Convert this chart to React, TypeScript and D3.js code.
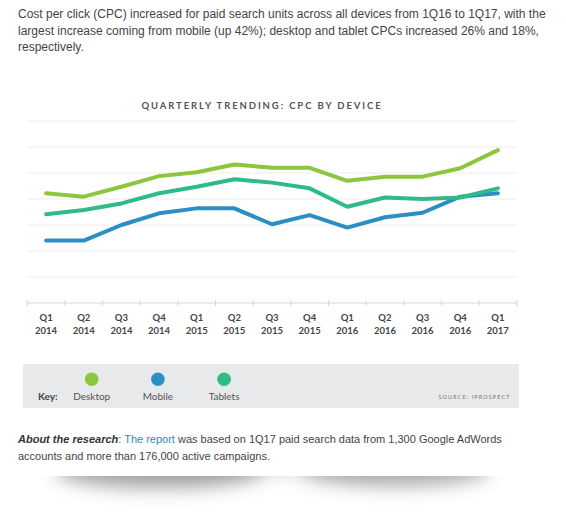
import React from "react"
import * as d3 from "d3"

const quarters = ["Q1", "Q2", "Q3", "Q4", "Q1", "Q2", "Q3", "Q4", "Q1", "Q2", "Q3", "Q4", "Q1"]
const years = ["2014", "2014", "2014", "2014", "2015", "2015", "2015", "2015", "2016", "2016", "2016", "2016", "2017"]

const desktop = [4.22, 4.09, 4.47, 4.88, 5.03, 5.33, 5.2, 5.2, 4.7, 4.86, 4.86, 5.18, 5.88]
const mobile = [2.4, 2.4, 3.0, 3.45, 3.64, 3.64, 3.03, 3.38, 2.9, 3.3, 3.47, 4.09, 4.22]
const tablets = [3.41, 3.58, 3.83, 4.22, 4.47, 4.76, 4.63, 4.41, 3.7, 4.06, 4.0, 4.06, 4.41]

const gridValues = [1, 2, 3, 4, 5, 6, 7]

const series = [
  { name: "Desktop", values: desktop, color: "#8cc63f" },
  { name: "Mobile", values: mobile, color: "#2b8fc3" },
  { name: "Tablets", values: tablets, color: "#2fbb85" },
]

const W = 566
const H = 516

export default function App() {
  const keys = quarters.map((q, i) => `${q} ${years[i]}`)
  const x = d3.scalePoint<string>().domain(keys).range([27.3, 516.7]).padding(0.5)
  const xBand = d3.scaleBand<string>().domain(keys).range([27.3, 516.7])
  const y = d3.scaleLinear().domain([0, 7]).range([303, 121])

  const line = d3
    .line<number>()
    .x((_, i) => x(keys[i]) as number)
    .y((d) => y(d))
    .curve(d3.curveLinear)

  const tickXs = [...keys.map((k) => xBand(k) as number), xBand.range()[1]]

  const bodyFont = "'Liberation Sans', Arial, sans-serif"
  const chartFont = "Lato, 'Open Sans', sans-serif"

  return (
    <svg width={W} height={H} style={{ position: "absolute", left: 0, top: 0 }}>
      <defs>
        <filter id="blur" x="-50%" y="-300%" width="200%" height="700%">
          <feGaussianBlur stdDeviation="9" />
        </filter>
        <clipPath id="below">
          <rect x={0} y={476} width={W} height={H - 476} />
        </clipPath>
      </defs>
      <rect width={W} height={H} fill="#fff" />

      {/* paper curl shadow */}
      <g clipPath="url(#below)">
        <g filter="url(#blur)">
          <ellipse cx={160} cy={470} rx={105} ry={18} fill="#555" opacity={0.55} />
          <ellipse cx={395} cy={470} rx={95} ry={16} fill="#555" opacity={0.5} />
          <ellipse cx={278} cy={468} rx={100} ry={6} fill="#777" opacity={0.3} />
        </g>
      </g>

      <g fontFamily={bodyFont} fontSize={12} fill="#444">
        <text x={18} y={18}>
          Cost per click (CPC) increased for paid search units across all devices from 1Q16 to 1Q17, with the
        </text>
        <text x={18} y={35}>
          largest increase coming from mobile (up 42%); desktop and tablet CPCs increased 26% and 18%,
        </text>
        <text x={18} y={51}>respectively.</text>
      </g>

      <text
        x={262}
        y={109}
        textAnchor="middle"
        fontFamily={chartFont}
        fontSize={9.5}
        fontWeight={700}
        letterSpacing={1.9}
        fill="#555"
      >
        QUARTERLY TRENDING: CPC BY DEVICE
      </text>

      {gridValues.map((v) => (
        <line key={v} x1={27} x2={517} y1={y(v)} y2={y(v)} stroke="#ececec" strokeWidth={1} />
      ))}

      {/* axis */}
      <line x1={27} x2={517} y1={y(0)} y2={y(0)} stroke="#d6d6d6" strokeWidth={1} />
      {tickXs.map((t, i) => (
        <line key={i} x1={t} x2={t} y1={y(0) - 3} y2={y(0) + 3} stroke="#d6d6d6" strokeWidth={1} />
      ))}
      <g fontFamily={chartFont} fontSize={9.5} fontWeight={700} fill="#444" textAnchor="middle">
        {keys.map((k, i) => (
          <text key={k} x={x(k)}>
            <tspan x={x(k)} y={321}>
              {quarters[i]}
            </tspan>
            <tspan x={x(k)} y={334}>
              {years[i]}
            </tspan>
          </text>
        ))}
      </g>

      {series.map((s) => (
        <path
          key={s.name}
          d={line(s.values) ?? ""}
          fill="none"
          stroke={s.color}
          strokeWidth={4}
          strokeLinejoin="round"
          strokeLinecap="round"
        />
      ))}

      {/* key */}
      <rect x={23} y={364} width={496} height={44} fill="#e8e9ea" />
      <text x={38} y={400} fontFamily={chartFont} fontSize={10} fontWeight={700} fill="#444">
        Key:
      </text>
      {series.map((s, i) => {
        const cx = 91.7 + i * 66.2
        return (
          <g key={s.name}>
            <circle cx={cx} cy={379.3} r={6.8} fill={s.color} />
            <text x={cx} y={400} textAnchor="middle" fontFamily={chartFont} fontSize={10} fill="#555">
              {s.name}
            </text>
          </g>
        )
      })}
      <text
        x={510.5}
        y={399}
        textAnchor="end"
        fontFamily={chartFont}
        fontSize={5.5}
        letterSpacing={1.1}
        fill="#777"
      >
        SOURCE: IPROSPECT
      </text>

      <g fontFamily={bodyFont} fontSize={11} fill="#444">
        <text x={18} y={443}>
          <tspan fontWeight={700} fontStyle="italic" fill="#333">
            About the research
          </tspan>
          <tspan>: </tspan>
          <tspan fill="#2a8fbd">The report</tspan>
          <tspan> was based on 1Q17 paid search data from 1,300 Google AdWords</tspan>
        </text>
        <text x={18} y={460}>accounts and more than 176,000 active campaigns.</text>
      </g>
    </svg>
  )
}
